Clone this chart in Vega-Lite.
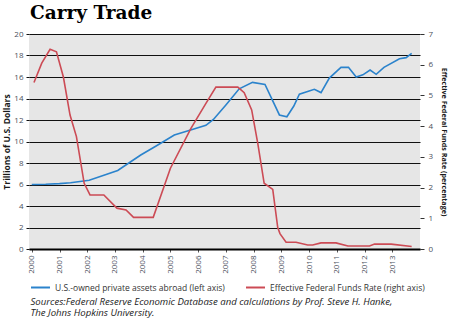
{
  "$schema": "https://vega.github.io/schema/vega-lite/v6.json",
  "width": 391,
  "height": 215,
  "autosize": {"type": "none"},
  "padding": {"left": 29, "top": 34, "right": 30, "bottom": 74},
  "background": "white",
  "title": {
    "text": "Carry Trade",
    "anchor": "start",
    "frame": "group",
    "font": "DejaVu Serif",
    "fontSize": 18.5,
    "fontWeight": "bold",
    "color": "#000000",
    "baseline": "bottom",
    "offset": 8,
    "dy": 19,
    "dx": 1
  },
  "config": {
    "view": {"fill": "#e6e6e6", "stroke": null},
    "font": "Open Sans",
    "axis": {"labelFont": "Open Sans", "titleFont": "Open Sans", "labelColor": "#4a4f5c", "titleColor": "#1a1a1a"}
  },
  "datasets": {
    "assets": [
      {"t": 2000.0, "series": "U.S.-owned private assets abroad (left axis)", "value": 6.0},
      {"t": 2000.5, "series": "U.S.-owned private assets abroad (left axis)", "value": 6.02},
      {"t": 2001.0, "series": "U.S.-owned private assets abroad (left axis)", "value": 6.08},
      {"t": 2001.4, "series": "U.S.-owned private assets abroad (left axis)", "value": 6.17},
      {"t": 2002.07, "series": "U.S.-owned private assets abroad (left axis)", "value": 6.4},
      {"t": 2002.6, "series": "U.S.-owned private assets abroad (left axis)", "value": 6.85},
      {"t": 2003.1, "series": "U.S.-owned private assets abroad (left axis)", "value": 7.3},
      {"t": 2003.5, "series": "U.S.-owned private assets abroad (left axis)", "value": 8.0},
      {"t": 2003.93, "series": "U.S.-owned private assets abroad (left axis)", "value": 8.74},
      {"t": 2004.5, "series": "U.S.-owned private assets abroad (left axis)", "value": 9.6},
      {"t": 2005.14, "series": "U.S.-owned private assets abroad (left axis)", "value": 10.6},
      {"t": 2005.7, "series": "U.S.-owned private assets abroad (left axis)", "value": 11.05},
      {"t": 2006.28, "series": "U.S.-owned private assets abroad (left axis)", "value": 11.5},
      {"t": 2006.55, "series": "U.S.-owned private assets abroad (left axis)", "value": 12.05},
      {"t": 2007.0, "series": "U.S.-owned private assets abroad (left axis)", "value": 13.4},
      {"t": 2007.48, "series": "U.S.-owned private assets abroad (left axis)", "value": 14.9},
      {"t": 2007.96, "series": "U.S.-owned private assets abroad (left axis)", "value": 15.5},
      {"t": 2008.41, "series": "U.S.-owned private assets abroad (left axis)", "value": 15.3},
      {"t": 2008.93, "series": "U.S.-owned private assets abroad (left axis)", "value": 12.47},
      {"t": 2009.2, "series": "U.S.-owned private assets abroad (left axis)", "value": 12.3},
      {"t": 2009.45, "series": "U.S.-owned private assets abroad (left axis)", "value": 13.3},
      {"t": 2009.65, "series": "U.S.-owned private assets abroad (left axis)", "value": 14.4},
      {"t": 2010.19, "series": "U.S.-owned private assets abroad (left axis)", "value": 14.85},
      {"t": 2010.43, "series": "U.S.-owned private assets abroad (left axis)", "value": 14.55},
      {"t": 2010.73, "series": "U.S.-owned private assets abroad (left axis)", "value": 15.9},
      {"t": 2011.15, "series": "U.S.-owned private assets abroad (left axis)", "value": 16.9},
      {"t": 2011.42, "series": "U.S.-owned private assets abroad (left axis)", "value": 16.9},
      {"t": 2011.7, "series": "U.S.-owned private assets abroad (left axis)", "value": 16.0},
      {"t": 2011.94, "series": "U.S.-owned private assets abroad (left axis)", "value": 16.2},
      {"t": 2012.2, "series": "U.S.-owned private assets abroad (left axis)", "value": 16.65},
      {"t": 2012.42, "series": "U.S.-owned private assets abroad (left axis)", "value": 16.25},
      {"t": 2012.7, "series": "U.S.-owned private assets abroad (left axis)", "value": 16.9},
      {"t": 2013.26, "series": "U.S.-owned private assets abroad (left axis)", "value": 17.7},
      {"t": 2013.5, "series": "U.S.-owned private assets abroad (left axis)", "value": 17.8},
      {"t": 2013.7, "series": "U.S.-owned private assets abroad (left axis)", "value": 18.2}
    ],
    "rate": [
      {"t": 2000.08, "series": "Effective Federal Funds Rate (right axis)", "value": 5.42},
      {"t": 2000.36, "series": "Effective Federal Funds Rate (right axis)", "value": 6.05},
      {"t": 2000.66, "series": "Effective Federal Funds Rate (right axis)", "value": 6.5},
      {"t": 2000.89, "series": "Effective Federal Funds Rate (right axis)", "value": 6.42},
      {"t": 2001.14, "series": "Effective Federal Funds Rate (right axis)", "value": 5.6},
      {"t": 2001.38, "series": "Effective Federal Funds Rate (right axis)", "value": 4.36},
      {"t": 2001.61, "series": "Effective Federal Funds Rate (right axis)", "value": 3.66},
      {"t": 2001.89, "series": "Effective Federal Funds Rate (right axis)", "value": 2.14},
      {"t": 2002.1, "series": "Effective Federal Funds Rate (right axis)", "value": 1.76},
      {"t": 2002.6, "series": "Effective Federal Funds Rate (right axis)", "value": 1.76},
      {"t": 2003.07, "series": "Effective Federal Funds Rate (right axis)", "value": 1.33},
      {"t": 2003.4, "series": "Effective Federal Funds Rate (right axis)", "value": 1.27},
      {"t": 2003.67, "series": "Effective Federal Funds Rate (right axis)", "value": 1.03},
      {"t": 2004.38, "series": "Effective Federal Funds Rate (right axis)", "value": 1.03},
      {"t": 2005.0, "series": "Effective Federal Funds Rate (right axis)", "value": 2.63},
      {"t": 2005.74, "series": "Effective Federal Funds Rate (right axis)", "value": 3.93},
      {"t": 2006.28, "series": "Effective Federal Funds Rate (right axis)", "value": 4.74},
      {"t": 2006.64, "series": "Effective Federal Funds Rate (right axis)", "value": 5.27},
      {"t": 2007.43, "series": "Effective Federal Funds Rate (right axis)", "value": 5.27},
      {"t": 2007.66, "series": "Effective Federal Funds Rate (right axis)", "value": 5.09},
      {"t": 2007.93, "series": "Effective Federal Funds Rate (right axis)", "value": 4.53},
      {"t": 2008.15, "series": "Effective Federal Funds Rate (right axis)", "value": 3.44},
      {"t": 2008.38, "series": "Effective Federal Funds Rate (right axis)", "value": 2.14},
      {"t": 2008.69, "series": "Effective Federal Funds Rate (right axis)", "value": 1.94},
      {"t": 2008.87, "series": "Effective Federal Funds Rate (right axis)", "value": 0.7},
      {"t": 2008.95, "series": "Effective Federal Funds Rate (right axis)", "value": 0.5},
      {"t": 2009.17, "series": "Effective Federal Funds Rate (right axis)", "value": 0.22},
      {"t": 2009.53, "series": "Effective Federal Funds Rate (right axis)", "value": 0.22},
      {"t": 2009.95, "series": "Effective Federal Funds Rate (right axis)", "value": 0.13},
      {"t": 2010.13, "series": "Effective Federal Funds Rate (right axis)", "value": 0.13},
      {"t": 2010.43, "series": "Effective Federal Funds Rate (right axis)", "value": 0.2},
      {"t": 2010.97, "series": "Effective Federal Funds Rate (right axis)", "value": 0.2},
      {"t": 2011.4, "series": "Effective Federal Funds Rate (right axis)", "value": 0.1},
      {"t": 2012.18, "series": "Effective Federal Funds Rate (right axis)", "value": 0.1},
      {"t": 2012.36, "series": "Effective Federal Funds Rate (right axis)", "value": 0.16},
      {"t": 2012.96, "series": "Effective Federal Funds Rate (right axis)", "value": 0.16},
      {"t": 2013.7, "series": "Effective Federal Funds Rate (right axis)", "value": 0.08}
    ]
  },
  "encoding": {
    "x": {
      "field": "t",
      "type": "quantitative",
      "scale": {"domain": [1999.9, 2014.0], "nice": false, "zero": false},
      "axis": {
        "values": [2000, 2001, 2002, 2003, 2004, 2005, 2006, 2007, 2008, 2009, 2010, 2011, 2012, 2013],
        "format": "d",
        "labelAngle": -90,
        "labelFontSize": 8,
        "labelPadding": 3,
        "tickSize": 3,
        "tickColor": "#555555",
        "domainColor": "#000000",
        "domainWidth": 2,
        "grid": false,
        "title": ["Sources:Federal Reserve Economic Database and calculations by Prof.  Steve H. Hanke,", "The Johns Hopkins University."],
        "titleFontStyle": "italic",
        "titleFontWeight": "normal",
        "titleFontSize": 9.6,
        "titleLineHeight": 11,
        "titleAnchor": "start",
        "titleAlign": "left",
        "titleBaseline": "top",
        "titlePadding": 23,
        "titleX": 1,
        "titleColor": "#222222"
      }
    },
    "color": {
      "field": "series",
      "type": "nominal",
      "scale": {
        "domain": ["U.S.-owned private assets abroad (left axis)", "Effective Federal Funds Rate (right axis)"],
        "range": ["#2b83cc", "#cc4b55"]
      },
      "legend": {
        "title": null,
        "orient": "none",
        "legendX": 1,
        "legendY": 243,
        "direction": "horizontal",
        "symbolType": "stroke",
        "symbolSize": 360,
        "symbolStrokeWidth": 2,
        "labelFont": "Open Sans",
        "labelFontSize": 8.5,
        "labelColor": "#333333",
        "columnPadding": 17,
        "labelLimit": 300
      }
    }
  },
  "layer": [
    {
      "data": {"name": "assets"},
      "mark": {"type": "line", "strokeWidth": 1.6},
      "encoding": {
        "y": {
          "field": "value",
          "type": "quantitative",
          "scale": {"domain": [0, 20], "nice": false},
          "axis": {
            "orient": "left",
            "values": [0, 2, 4, 6, 8, 10, 12, 14, 16, 18, 20],
            "grid": true,
            "gridColor": "#111111",
            "gridWidth": 1.2,
            "gridOpacity": 1,
            "domain": false,
            "tickColor": "#111111",
            "tickSize": 3,
            "labelFontSize": 8,
            "labelPadding": 3,
            "title": "Trillions of U.S. Dollars",
            "titleFontSize": 8.5,
            "titleFontWeight": "bold",
            "titlePadding": 2
          }
        }
      }
    },
    {
      "data": {"name": "rate"},
      "mark": {"type": "line", "strokeWidth": 1.6},
      "encoding": {
        "y": {
          "field": "value",
          "type": "quantitative",
          "scale": {"domain": [0, 7], "nice": false},
          "axis": {
            "orient": "right",
            "values": [0, 1, 2, 3, 4, 5, 6, 7],
            "grid": false,
            "domain": false,
            "tickColor": "#333333",
            "tickSize": 4,
            "labelFontSize": 8,
            "labelPadding": 4,
            "title": "Effective Federal Funds Rate (percentage)",
            "titleFontSize": 7.2,
            "titleFontWeight": "bold",
            "titlePadding": 7
          }
        }
      }
    }
  ],
  "resolve": {"scale": {"y": "independent"}}
}
